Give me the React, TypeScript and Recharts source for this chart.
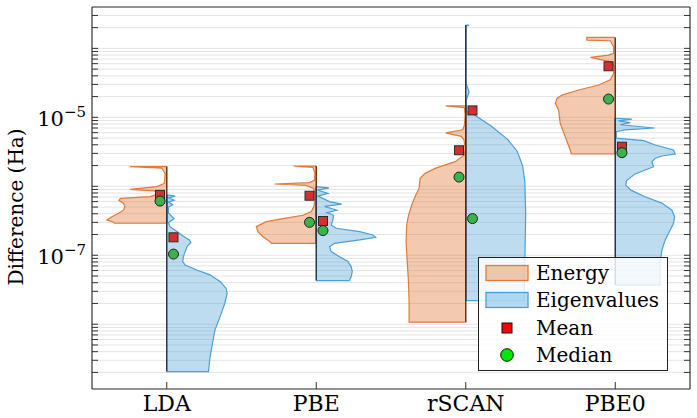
import React from "react";
import { ComposedChart, Scatter, XAxis, YAxis, CartesianGrid } from "recharts";

// categories on the x axis
const FUNCTIONALS = ["LDA", "PBE", "rSCAN", "PBE0"];

// violin half profiles: [difference (Ha), half width in category units], top -> bottom
const LDA_ENERGY: [number, number][] = [
  [1.93e-6, 0.245], [1.84e-6, 0.033], [1.54e-6, 0.011], [1.1e-6, 0.016],
  [9.9e-7, 0.067], [9.05e-7, 0.245], [8.5e-7, 0.067], [7.9e-7, 0.049],
  [7.1e-7, 0.11], [6.7e-7, 0.31], [6.2e-7, 0.32], [5.7e-7, 0.29],
  [5.1e-7, 0.28], [4.5e-7, 0.29], [4.1e-7, 0.32], [3.6e-7, 0.37],
  [3.25e-7, 0.4], [3.04e-7, 0.36], [2.91e-7, 0.35],
];
const LDA_EIGEN: [number, number][] = [
  [7.5e-7, 0], [7.2e-7, 0.056], [6.8e-7, 0.011], [6.3e-7, 0.049],
  [5.9e-7, 0.011], [5.4e-7, 0.04], [5.0e-7, 0.011], [4.1e-7, 0.011],
  [3.4e-7, 0.049], [2.97e-7, 0.011], [2.6e-7, 0.022], [2.2e-7, 0.071],
  [1.86e-7, 0.116], [1.67e-7, 0.152], [1.52e-7, 0.161], [1.36e-7, 0.138],
  [1.13e-7, 0.123], [9.5e-8, 0.111], [8.1e-8, 0.107], [7.2e-8, 0.123],
  [6.1e-8, 0.201], [5.2e-8, 0.29], [4.1e-8, 0.361], [3.3e-8, 0.397],
  [2.8e-8, 0.404], [2.0e-8, 0.388], [1.29e-8, 0.357], [8.3e-9, 0.323],
  [5.3e-9, 0.306], [3.4e-9, 0.29], [2.06e-9, 0.279],
];
const PBE_ENERGY: [number, number][] = [
  [1.97e-6, 0.152], [1.88e-6, 0.022], [1.54e-6, 0.009], [1.23e-6, 0.011],
  [1.13e-6, 0.045], [1.08e-6, 0.279], [1.03e-6, 0.067], [9.3e-7, 0.018],
  [7.9e-7, 0.009], [6.3e-7, 0.009], [5.1e-7, 0.016], [4.3e-7, 0.033],
  [3.8e-7, 0.089], [3.4e-7, 0.223], [3.07e-7, 0.334], [2.6e-7, 0.401],
  [2.2e-7, 0.39], [1.86e-7, 0.357], [1.57e-7, 0.308], [1.49e-7, 0.3],
];
const PBE_EIGEN: [number, number][] = [
  [9.9e-7, 0], [9.5e-7, 0.085], [8.8e-7, 0.011], [7.9e-7, 0.078],
  [7.2e-7, 0.011], [6.0e-7, 0.089], [5.5e-7, 0.17], [5.1e-7, 0.056],
  [4.5e-7, 0.138], [4.15e-7, 0.071], [3.8e-7, 0.116], [3.25e-7, 0.111],
  [2.75e-7, 0.1], [2.46e-7, 0.134], [2.2e-7, 0.29], [1.97e-7, 0.379],
  [1.82e-7, 0.397], [1.67e-7, 0.29], [1.49e-7, 0.123], [1.33e-7, 0.089],
  [1.13e-7, 0.1], [9.5e-8, 0.156], [8.1e-8, 0.212], [6.8e-8, 0.234],
  [5.8e-8, 0.241], [4.9e-8, 0.234], [4.4e-8, 0.223], [4.3e-8, 0.22],
];
const RSCAN_ENERGY: [number, number][] = [
  [1.47e-5, 0.134], [1.38e-5, 0.009], [1.08e-5, 0.004], [7.7e-6, 0.009],
  [6.6e-6, 0.02], [5.95e-6, 0.134], [5.3e-6, 0.03], [4.7e-6, 0.012],
  [3.6e-6, 0.004], [2.85e-6, 0.009], [2.28e-6, 0.071], [1.82e-6, 0.205],
  [1.54e-6, 0.272], [1.31e-6, 0.305], [9.4e-7, 0.312], [7.5e-7, 0.334],
  [5.4e-7, 0.361], [3.8e-7, 0.383], [2.75e-7, 0.395], [1.57e-7, 0.399],
  [7.2e-8, 0.39], [4.1e-8, 0.383], [2.1e-8, 0.379], [1.07e-8, 0.379],
];
const RSCAN_EIGEN: [number, number][] = [
  [2.18e-4, 0.024], [2.1e-4, 0.002], [3.1e-5, 0.002], [2.35e-5, 0.022],
  [1.78e-5, 0.004], [1.21e-5, 0.004], [1.15e-5, 0.04], [7.5e-6, 0.17],
  [4.8e-6, 0.28], [3.2e-6, 0.345], [2.0e-6, 0.38], [1.2e-6, 0.395],
  [4.0e-7, 0.401], [1.26e-7, 0.397], [4.1e-8, 0.392], [2.2e-8, 0.392],
];
const PBE0_ENERGY: [number, number][] = [
  [1.44e-4, 0.19], [1.32e-4, 0.19], [1.29e-4, 0.033], [1.05e-4, 0.011],
  [8.5e-5, 0.011], [8.0e-5, 0.045], [7.4e-5, 0.165], [6.8e-5, 0.089],
  [6.4e-5, 0.022], [5.4e-5, 0.007], [4.3e-5, 0.011], [3.5e-5, 0.033],
  [2.94e-5, 0.111], [2.49e-5, 0.245], [2.1e-5, 0.357], [1.88e-5, 0.39],
  [1.6e-5, 0.401], [1.28e-5, 0.379], [8.2e-6, 0.368], [5.2e-6, 0.334],
  [3.36e-6, 0.301], [2.94e-6, 0.294],
];
const PBE0_EIGEN: [number, number][] = [
  [9.7e-6, 0], [9.4e-6, 0.111], [8.9e-6, 0.022], [8.4e-6, 0.1],
  [7.8e-6, 0.033], [7.0e-6, 0.263], [6.6e-6, 0.067], [6.2e-6, 0.007],
  [5.0e-6, 0.007], [4.6e-6, 0.19], [3.97e-6, 0.268], [3.36e-6, 0.39],
  [2.94e-6, 0.401], [2.75e-6, 0.312], [2.55e-6, 0.268], [2.28e-6, 0.245],
  [1.92e-6, 0.256], [1.72e-6, 0.2], [1.5e-6, 0.13], [1.2e-6, 0.075],
  [1.04e-6, 0.07], [8.8e-7, 0.105], [7.1e-7, 0.195], [5.7e-7, 0.312],
  [4.5e-7, 0.379], [3.6e-7, 0.397], [2.9e-7, 0.39], [2.33e-7, 0.368],
  [1.67e-7, 0.334], [1.19e-7, 0.312], [7.7e-8, 0.3], [3.7e-8, 0.3],
];

const ENERGY_PROFILES = [LDA_ENERGY, PBE_ENERGY, RSCAN_ENERGY, PBE0_ENERGY];
const EIGEN_PROFILES = [LDA_EIGEN, PBE_EIGEN, RSCAN_EIGEN, PBE0_EIGEN];

// summary markers per functional
const ENERGY_MEAN = [7.5e-7, 7.3e-7, 3.33e-6, 5.5e-5];
const ENERGY_MEDIAN = [6.1e-7, 3.0e-7, 1.36e-6, 1.84e-5];
const EIGEN_MEAN = [1.82e-7, 3.14e-7, 1.26e-5, 3.75e-6];
const EIGEN_MEDIAN = [1.04e-7, 2.28e-7, 3.4e-7, 3.07e-6];

// axis
const Y_MIN = 1.15e-9;
const Y_MAX = 3.98e-4;
const LABELLED_EXPONENTS = [-5, -7];
const DECADES = [-9, -8, -7, -6, -5, -4];
const MULTIPLES = [1, 2, 3, 4, 5, 6, 7, 8, 9];
const Y_TICKS = DECADES.flatMap((d) => MULTIPLES.map((m) => m * 10 ** d)).filter(
  (v) => v >= Y_MIN && v <= Y_MAX
);

const FONT = "'DejaVu Serif', serif";
const AXIS = "#333";
const ORANGE = "#e07b39";
const BLUE = "#4a9fd6";
const MARKER_SHIFT = 0.045;

type Pt = { x: number; y: number };

function outline(profile: [number, number][], center: number, side: number): Pt[] {
  const top = profile[0][0];
  const bottom = profile[profile.length - 1][0];
  return [
    { x: center, y: top },
    ...profile.map(([y, w]) => ({ x: center + side * w, y })),
    { x: center, y: bottom },
  ];
}

function spine(profile: [number, number][], center: number): Pt[] {
  return [
    { x: center, y: profile[0][0] },
    { x: center, y: profile[profile.length - 1][0] },
  ];
}

const Hidden = () => <g />;

const Square = (p: any) => (
  <rect x={p.cx - 4.5} y={p.cy - 4.5} width={9} height={9} fill="#d32f2f" stroke="#2b2b2b" strokeWidth={1} />
);
const Dot = (p: any) => (
  <circle cx={p.cx} cy={p.cy} r={5} fill="#3bb34a" stroke="#222" strokeWidth={1} />
);

const XTick = (p: any) => (
  <text x={p.x} y={p.y} textAnchor="middle" fontSize={22} fontFamily={FONT} fill="#000">
    {FUNCTIONALS[p.payload.value]}
  </text>
);

const YTick = (p: any) => {
  const exp = Math.round(Math.log10(p.payload.value));
  const isMajor = Math.abs(Math.log10(p.payload.value) - exp) < 1e-6;
  if (!isMajor || !LABELLED_EXPONENTS.includes(exp)) return <g />;
  return (
    <text x={p.x} y={p.y + 9} textAnchor="end" fontSize={21} fontFamily={FONT} fill="#000">
      10
      <tspan dy={-9} fontSize={15}>
        {"\u2212" + Math.abs(exp)}
      </tspan>
    </text>
  );
};

const LEGEND_ROWS = [
  { label: "Energy", kind: "patch", color: ORANGE },
  { label: "Eigenvalues", kind: "patch", color: BLUE },
  { label: "Mean", kind: "square", color: "#ff0000" },
  { label: "Median", kind: "circle", color: "#00e600" },
];

function Legend() {
  return (
    <div
      style={{
        position: "absolute",
        left: 478,
        top: 257,
        width: 188,
        height: 112,
        border: "1px solid #222",
        background: "rgba(255,255,255,0.82)",
        fontFamily: FONT,
        fontSize: 20,
      }}
    >
      {LEGEND_ROWS.map((r, i) => (
        <div
          key={r.label}
          style={{ position: "absolute", left: 0, top: 2 + i * 27.3, height: 26, display: "flex", alignItems: "center" }}
        >
          <svg width={52} height={26} style={{ display: "block" }}>
            {r.kind === "patch" && (
              <rect x={7} y={5.5} width={42} height={15} fill={r.color} fillOpacity={0.4} stroke={r.color} strokeWidth={1.3} />
            )}
            {r.kind === "square" && (
              <rect x={23} y={8} width={10} height={10} fill={r.color} stroke="#111" strokeWidth={1} />
            )}
            {r.kind === "circle" && <circle cx={28} cy={13} r={6.3} fill={r.color} stroke="#111" strokeWidth={1} />}
          </svg>
          <span style={{ marginLeft: 5, lineHeight: "26px", color: "#000" }}>{r.label}</span>
        </div>
      ))}
    </div>
  );
}

export default function App() {
  return (
    <div style={{ position: "absolute", left: 0, top: 0, width: 697, height: 418, background: "#fff" }}>
      <ComposedChart width={697} height={418} margin={{ top: 0, right: 0, bottom: 0, left: 0 }}>
        <CartesianGrid horizontal vertical={false} stroke="#e4e4e4" strokeWidth={1} />
        <XAxis
          dataKey="x"
          type="number"
          domain={[-0.5, 3.5]}
          ticks={[0, 1, 2, 3]}
          interval={0}
          height={29}
          allowDataOverflow
          axisLine={{ stroke: AXIS, strokeWidth: 1.2 }}
          tickLine={{ stroke: AXIS }}
          tickSize={-7}
          tickMargin={29}
          tick={XTick}
        />
        <XAxis
          xAxisId="top"
          orientation="top"
          type="number"
          domain={[-0.5, 3.5]}
          height={7}
          allowDataOverflow
          axisLine={{ stroke: AXIS, strokeWidth: 1.2 }}
          tickLine={false}
          tick={false}
        />
        <YAxis
          dataKey="y"
          type="number"
          scale="log"
          domain={[Y_MIN, Y_MAX]}
          allowDataOverflow
          ticks={Y_TICKS}
          interval={0}
          width={92}
          axisLine={{ stroke: AXIS, strokeWidth: 1.2 }}
          tickLine={{ stroke: AXIS }}
          tickSize={-6}
          tickMargin={12}
          tick={YTick}
        />
        <YAxis
          yAxisId="r"
          orientation="right"
          dataKey="y"
          type="number"
          scale="log"
          domain={[Y_MIN, Y_MAX]}
          allowDataOverflow
          ticks={Y_TICKS}
          interval={0}
          width={7}
          axisLine={{ stroke: AXIS, strokeWidth: 1.2 }}
          tickLine={{ stroke: AXIS }}
          tickSize={-6}
          tick={Hidden}
        />

        {ENERGY_PROFILES.map((prof, i) => (
          <Scatter
            key={"e" + i}
            data={outline(prof, i, -1)}
            line={{ fill: ORANGE, fillOpacity: 0.4, stroke: ORANGE, strokeWidth: 1.2 }}
            lineType="joint"
            shape={Hidden}
            legendType="none"
            isAnimationActive={false}
          />
        ))}
        {EIGEN_PROFILES.map((prof, i) => (
          <Scatter
            key={"v" + i}
            data={outline(prof, i, 1)}
            line={{ fill: BLUE, fillOpacity: 0.36, stroke: BLUE, strokeWidth: 1.2 }}
            lineType="joint"
            shape={Hidden}
            legendType="none"
            isAnimationActive={false}
          />
        ))}
        {ENERGY_PROFILES.map((prof, i) => (
          <Scatter
            key={"es" + i}
            data={spine(prof, i)}
            line={{ stroke: "#6b3413", strokeWidth: 1.5 }}
            lineType="joint"
            shape={Hidden}
            legendType="none"
            isAnimationActive={false}
          />
        ))}
        {EIGEN_PROFILES.map((prof, i) => (
          <Scatter
            key={"vs" + i}
            data={spine(prof, i)}
            line={{ stroke: "#24394c", strokeWidth: 1.5 }}
            lineType="joint"
            shape={Hidden}
            legendType="none"
            isAnimationActive={false}
          />
        ))}

        <Scatter
          data={ENERGY_MEAN.map((y, i) => ({ x: i - MARKER_SHIFT, y }))}
          shape={Square}
          isAnimationActive={false}
        />
        <Scatter
          data={ENERGY_MEDIAN.map((y, i) => ({ x: i - MARKER_SHIFT, y }))}
          shape={Dot}
          isAnimationActive={false}
        />
        <Scatter
          data={EIGEN_MEAN.map((y, i) => ({ x: i + MARKER_SHIFT, y }))}
          shape={Square}
          isAnimationActive={false}
        />
        <Scatter
          data={EIGEN_MEDIAN.map((y, i) => ({ x: i + MARKER_SHIFT, y }))}
          shape={Dot}
          isAnimationActive={false}
        />
      </ComposedChart>

      <div
        style={{
          position: "absolute",
          left: 16,
          top: 207,
          transform: "translate(-50%, -50%) rotate(-90deg)",
          fontFamily: FONT,
          fontSize: 20,
          whiteSpace: "nowrap",
          color: "#000",
        }}
      >
        Difference (Ha)
      </div>
      <Legend />
    </div>
  );
}
